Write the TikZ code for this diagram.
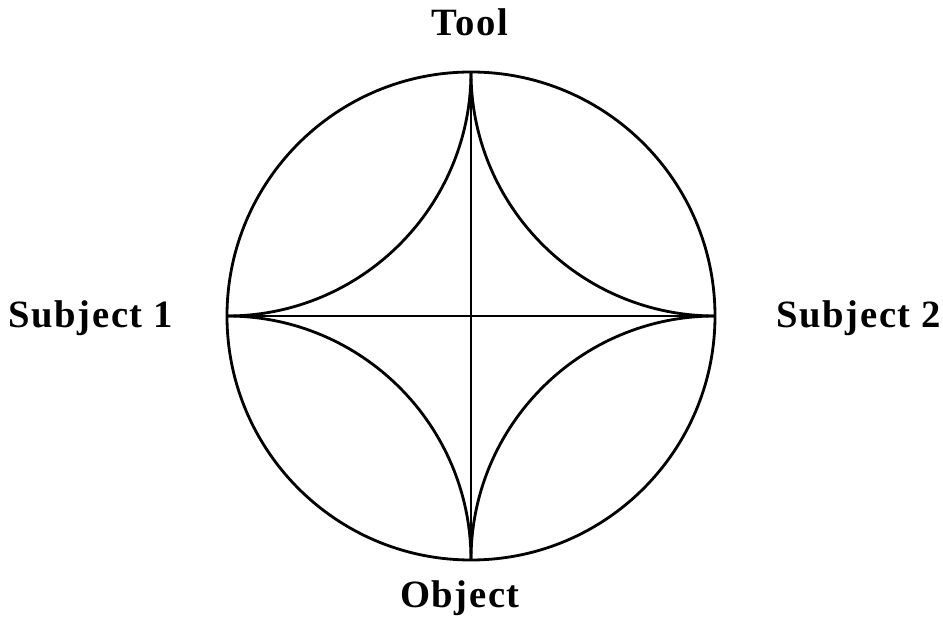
\documentclass[tikz,border=0pt]{standalone}
\usepackage{fontspec}
\setmainfont{Liberation Serif}
\usetikzlibrary{positioning}

\tikzset{
  lbl/.style={font=\fontsize{22}{26}\selectfont\bfseries\addfontfeature{LetterSpace=4},
              inner sep=0pt, anchor=base},
  edge/.style={line width=1.6pt}
}

\begin{document}
\begin{tikzpicture}[x=0.02cm, y=0.02cm]
  \useasboundingbox (-471,-305) rectangle (472,316);
  % four poles of the circle
  \coordinate (T) at (0,244);
  \coordinate (L) at (-244,0);
  \coordinate (B) at (0,-244);
  \coordinate (R) at (244,0);

  \draw[edge] (0,0) circle[radius=244];
  \draw[edge] (T) -- (B);
  \draw[edge] (L) -- (R);

  % concave sides
  \draw[edge] (T) arc[start angle=0, end angle=-90, radius=244];
  \draw[edge] (L) arc[start angle=90, end angle=0, radius=244];
  \draw[edge] (B) arc[start angle=180, end angle=90, radius=244];
  \draw[edge] (R) arc[start angle=270, end angle=180, radius=244];

  \node[lbl] (tool) at (-1,280) {Tool};
  \node[lbl] (subj1) at (-380,-12) {Subject 1};
  \node[lbl] (subj2) at (388,-12) {Subject 2};
  \node[lbl] (object) at (-11,-292) {Object};
\end{tikzpicture}
\end{document}
